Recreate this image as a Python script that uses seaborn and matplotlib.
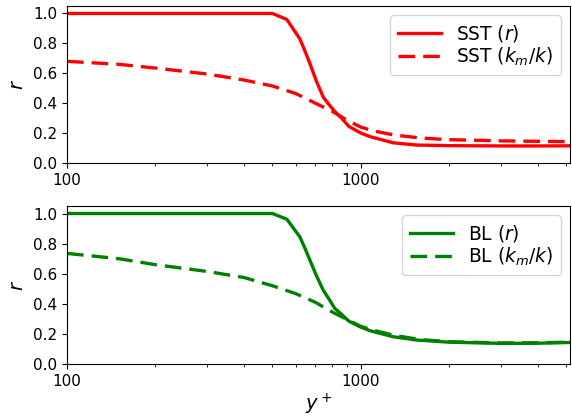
import matplotlib
matplotlib.use("Agg")
import matplotlib.pyplot as plt
from matplotlib.ticker import FixedLocator, NullFormatter, FuncFormatter
import numpy as np
import pandas as pd
import seaborn as sns

# y+ positions and values
yp_r = [100, 300, 500, 560, 620, 645, 671, 705, 745, 780, 815, 860, 910, 1000, 1080, 1290, 1550, 2000, 3000, 4000, 5150]
sst_r = [1.0, 1.0, 1.0, 0.96, 0.83, 0.75, 0.665, 0.55, 0.44, 0.39, 0.345, 0.30, 0.245, 0.20, 0.175, 0.135, 0.12, 0.116, 0.114, 0.114, 0.115]
bl_r = [1.0, 1.0, 1.0, 0.962, 0.845, 0.77, 0.69, 0.59, 0.49, 0.43, 0.37, 0.33, 0.285, 0.245, 0.22, 0.181, 0.159, 0.145, 0.137, 0.138, 0.143]

yp_k = [100, 150, 200, 300, 400, 500, 600, 700, 800, 900, 1000, 1100, 1300, 1600, 2000, 3000, 4000, 5150]
sst_k = [0.68, 0.66, 0.635, 0.595, 0.555, 0.515, 0.465, 0.40, 0.345, 0.285, 0.24, 0.215, 0.187, 0.167, 0.156, 0.148, 0.145, 0.143]
bl_k = [0.735, 0.70, 0.66, 0.615, 0.575, 0.52, 0.468, 0.41, 0.345, 0.295, 0.25, 0.225, 0.19, 0.162, 0.148, 0.14, 0.141, 0.145]

fig = plt.figure(figsize=(5.72, 4.16), dpi=100)
ax1 = fig.add_axes([67/572, 1-163/416, (570-67)/572, (163-6)/416])
ax2 = fig.add_axes([67/572, 1-364/416, (570-67)/572, (364-206)/416])

lw = 2.4
dash = (5.0, 2.4)

def draw(ax, name, col, yr, yk):
    sns.lineplot(x=yp_r, y=yr, ax=ax, color=col, lw=lw, label=name + " ($r$)")
    sns.lineplot(x=yp_k, y=yk, ax=ax, color=col, lw=lw, label=name + " ($k_m/k$)")
    ax.lines[-1].set_linestyle((0, dash))
    ax.set_xscale("log")
    ax.set_xlim(100, 5150)
    ax.set_ylim(0, 1.05)
    ax.set_yticks([0, 0.2, 0.4, 0.6, 0.8, 1.0])
    ax.xaxis.set_major_locator(FixedLocator([100, 1000]))
    ax.xaxis.set_major_formatter(FuncFormatter(lambda v, p: "%d" % v))
    ax.xaxis.set_minor_formatter(NullFormatter())
    ax.tick_params(labelsize=11)
    ax.set_ylabel("$r$", fontsize=14)
    ax.legend(loc="upper right", fontsize=13.4, handlelength=2.35,
              labelspacing=0.1, borderaxespad=0.5)

draw(ax1, "SST", "red", sst_r, sst_k)
draw(ax2, "BL", "green", bl_r, bl_k)
ax2.set_xlabel("$y^+$", fontsize=14, labelpad=2)

fig.savefig("out.png", dpi=100)
